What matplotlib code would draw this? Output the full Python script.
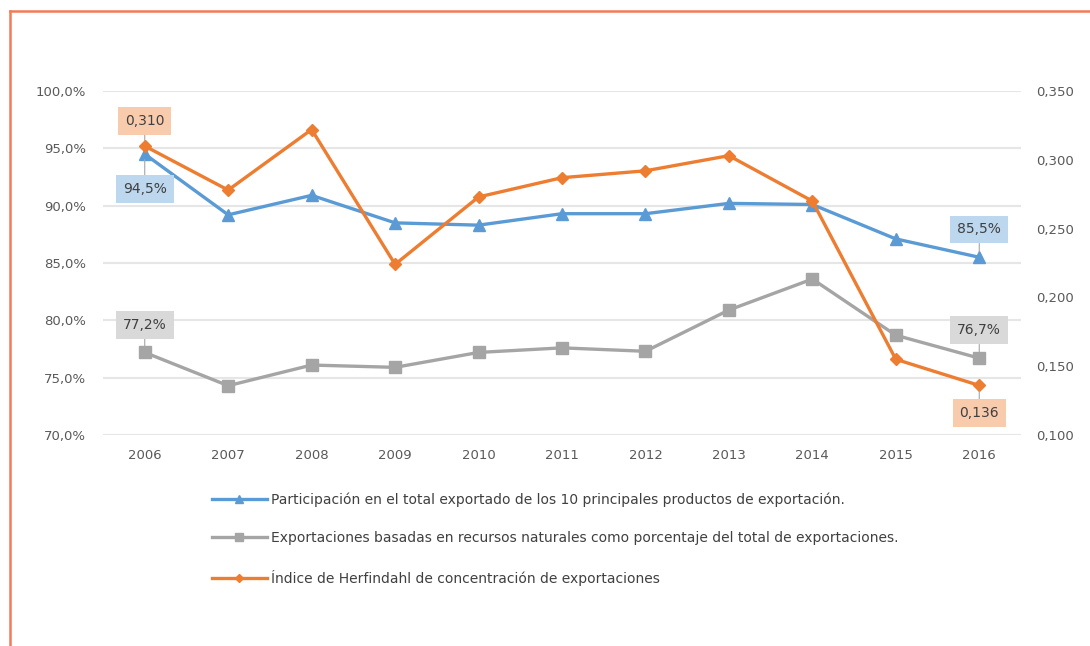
import matplotlib
matplotlib.use("Agg")
import matplotlib.pyplot as plt
from matplotlib.lines import Line2D
from matplotlib.ticker import FuncFormatter, MultipleLocator

plt.rcParams['font.family'] = ['DejaVu Sans']

years = ['2006', '2007', '2008', '2009', '2010', '2011', '2012', '2013', '2014', '2015', '2016']
# participacion 10 principales productos (%)
top10 = [94.5, 89.2, 90.9, 88.5, 88.3, 89.3, 89.3, 90.2, 90.1, 87.1, 85.5]
# exportaciones basadas en recursos naturales (%)
recnat = [77.2, 74.3, 76.1, 75.9, 77.2, 77.6, 77.3, 80.9, 83.6, 78.7, 76.7]
# indice de Herfindahl
herf = [0.310, 0.278, 0.322, 0.224, 0.273, 0.287, 0.292, 0.303, 0.270, 0.155, 0.136]

labels = ['Participación en el total exportado de los 10 principales productos de exportación.',
          'Exportaciones basadas en recursos naturales como porcentaje del total de exportaciones.',
          'Índice de Herfindahl de concentración de exportaciones']

BLUE = '#5B9BD5'
GRAY = '#A5A5A5'
ORANGE = '#ED7D31'
TXT = '#595959'

fig = plt.figure(figsize=(10.9, 6.46), dpi=100)
ax = fig.add_axes([103/1090, 1-435/646, 918/1090, 344/646])
ax2 = ax.twinx()

x = list(range(len(years)))
l1, = ax.plot(x, top10, color=BLUE, lw=2.4, marker='^', ms=8, zorder=3)
l2, = ax.plot(x, recnat, color=GRAY, lw=2.4, marker='s', ms=8, zorder=3)
l3, = ax2.plot(x, herf, color=ORANGE, lw=2.4, marker='D', ms=6, zorder=3)

ax.set_xlim(-0.5, len(years) - 0.5)
ax.set_ylim(70, 100)
ax2.set_ylim(0.100, 0.350)
ax.yaxis.set_major_locator(MultipleLocator(5))
ax2.yaxis.set_major_locator(MultipleLocator(0.05))
ax.yaxis.set_major_formatter(FuncFormatter(lambda v, p: f"{v:.1f}%".replace('.', ',')))
ax2.yaxis.set_major_formatter(FuncFormatter(lambda v, p: f"{v:.3f}".replace('.', ',')))
ax.set_xticks(x)
ax.set_xticklabels(years)

ax.grid(axis='y', color='#E6E6E6', lw=1.5)
ax.set_axisbelow(True)
for a in (ax, ax2):
    for s in a.spines.values():
        s.set_visible(False)
    a.tick_params(length=0, labelsize=9.5, labelcolor=TXT)
ax.tick_params(axis='y', pad=12)
ax2.tick_params(axis='y', pad=11)
ax.tick_params(axis='x', pad=10)

def box(a, xi, yi, txt, fc, dy):
    a.annotate(txt, (xi, yi), xytext=(0, dy), textcoords='offset points',
               ha='center', va='center', fontsize=10, color='#404040',
               bbox=dict(boxstyle='square,pad=0.5', fc=fc, ec='none'),
               arrowprops=dict(arrowstyle='-', color='#A6A6A6', lw=0.8, shrinkA=0, shrinkB=4), zorder=5)

box(ax2, 0, herf[0], '0,310', '#F8CBAD', 18)
box(ax2, 10, herf[-1], '0,136', '#F8CBAD', -20)
box(ax, 0, top10[0], '94,5%', '#BDD7EE', -25)
box(ax, 10, top10[-1], '85,5%', '#BDD7EE', 20)
box(ax, 0, recnat[0], '77,2%', '#D9D9D9', 20)
box(ax, 10, recnat[-1], '76,7%', '#D9D9D9', 20)

h1 = Line2D([], [], color=BLUE, lw=2.4, marker='^', ms=6)
h2 = Line2D([], [], color=GRAY, lw=2.4, marker='s', ms=6)
h3 = Line2D([], [], color=ORANGE, lw=2.4, marker='D', ms=4)
fig.legend([h1, h2, h3], labels, loc='upper left', bbox_to_anchor=(199/1090, 1-480/646),
           frameon=False, fontsize=10, labelcolor='#404040', handlelength=4.0,
           handletextpad=0.3, labelspacing=1.75)

# marco naranja
fig.add_artist(Line2D([9.5/1090, 9.5/1090], [0, 1-11/646], color='#F47B5A', lw=1.8))
fig.add_artist(Line2D([9.5/1090, 1], [1-11/646, 1-11/646], color='#F47B5A', lw=1.8))

fig.savefig('out.png', dpi=100)
